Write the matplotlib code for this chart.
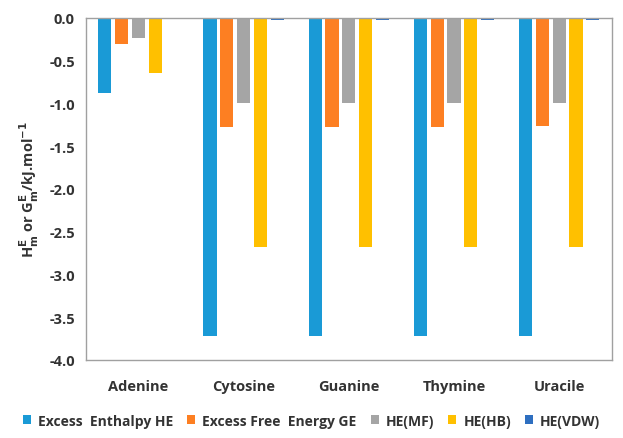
import numpy as np
import matplotlib
matplotlib.use("Agg")
import matplotlib.pyplot as plt

plt.rcParams['font.family'] = ['Open Sans', 'DejaVu Sans']

categories = ['Adenine', 'Cytosine', 'Guanine', 'Thymine', 'Uracile']
series_names = ['Excess  Enthalpy HE', 'Excess Free  Energy GE',
                'HE(MF)', 'HE(HB)', 'HE(VDW)']
he = [-0.88, -3.72, -3.72, -3.72, -3.72]
ge = [-0.30, -1.28, -1.28, -1.28, -1.27]
he_mf = [-0.24, -1.00, -1.00, -1.00, -1.00]
he_hb = [-0.64, -2.68, -2.68, -2.68, -2.68]
he_vdw = [-0.01, -0.03, -0.03, -0.03, -0.03]
colors = ['#1a9ad6', '#fd7f22', '#a5a5a5', '#ffc000', '#2e6fc0']

fig = plt.figure(figsize=(6.23, 4.39), dpi=100)
ax = fig.add_axes([0.138, 0.178, 0.844, 0.779])

x = np.arange(len(categories))
step = 0.16
width = 0.125
for i, (vals, name, c) in enumerate(zip([he, ge, he_mf, he_hb, he_vdw],
                                         series_names, colors)):
    ax.bar(x + (i - 2) * step, vals, width, color=c, label=name)

ax.set_xlim(-0.5, len(categories) - 0.5)
ax.set_ylim(-4.0, 0.0)
ax.set_yticks(np.arange(-4.0, 0.01, 0.5))
ax.set_yticklabels([f'{v:.1f}' for v in np.arange(-4.0, 0.01, 0.5)],
                   fontweight='bold', fontsize=10.5, color='#333333')
ax.set_xticks(x)
ax.set_xticklabels(categories, fontweight='bold', fontsize=10.5, color='#333333')
ax.tick_params(length=0, pad=8)
ax.tick_params(axis='x', pad=14)
for s in ax.spines.values():
    s.set_color('#a0a0a0')
    s.set_linewidth(1.0)

ax.set_ylabel(r'H$^{\mathbf{E}}_{\mathbf{m}}$ or G$^{\mathbf{E}}_{\mathbf{m}}$/kJ.mol$^{\mathbf{-1}}$',
              fontweight='bold', fontsize=10.5, color='#333333', labelpad=6)

fig.legend(loc='lower center', bbox_to_anchor=(0.5, -0.005), ncol=5,
           frameon=False, handlelength=0.6, handleheight=0.6,
           handletextpad=0.5, columnspacing=1.0,
           prop={'weight': 'bold', 'size': 10})
for t in fig.legends[0].get_texts():
    t.set_color('#333333')

fig.savefig('out.png', dpi=100)
